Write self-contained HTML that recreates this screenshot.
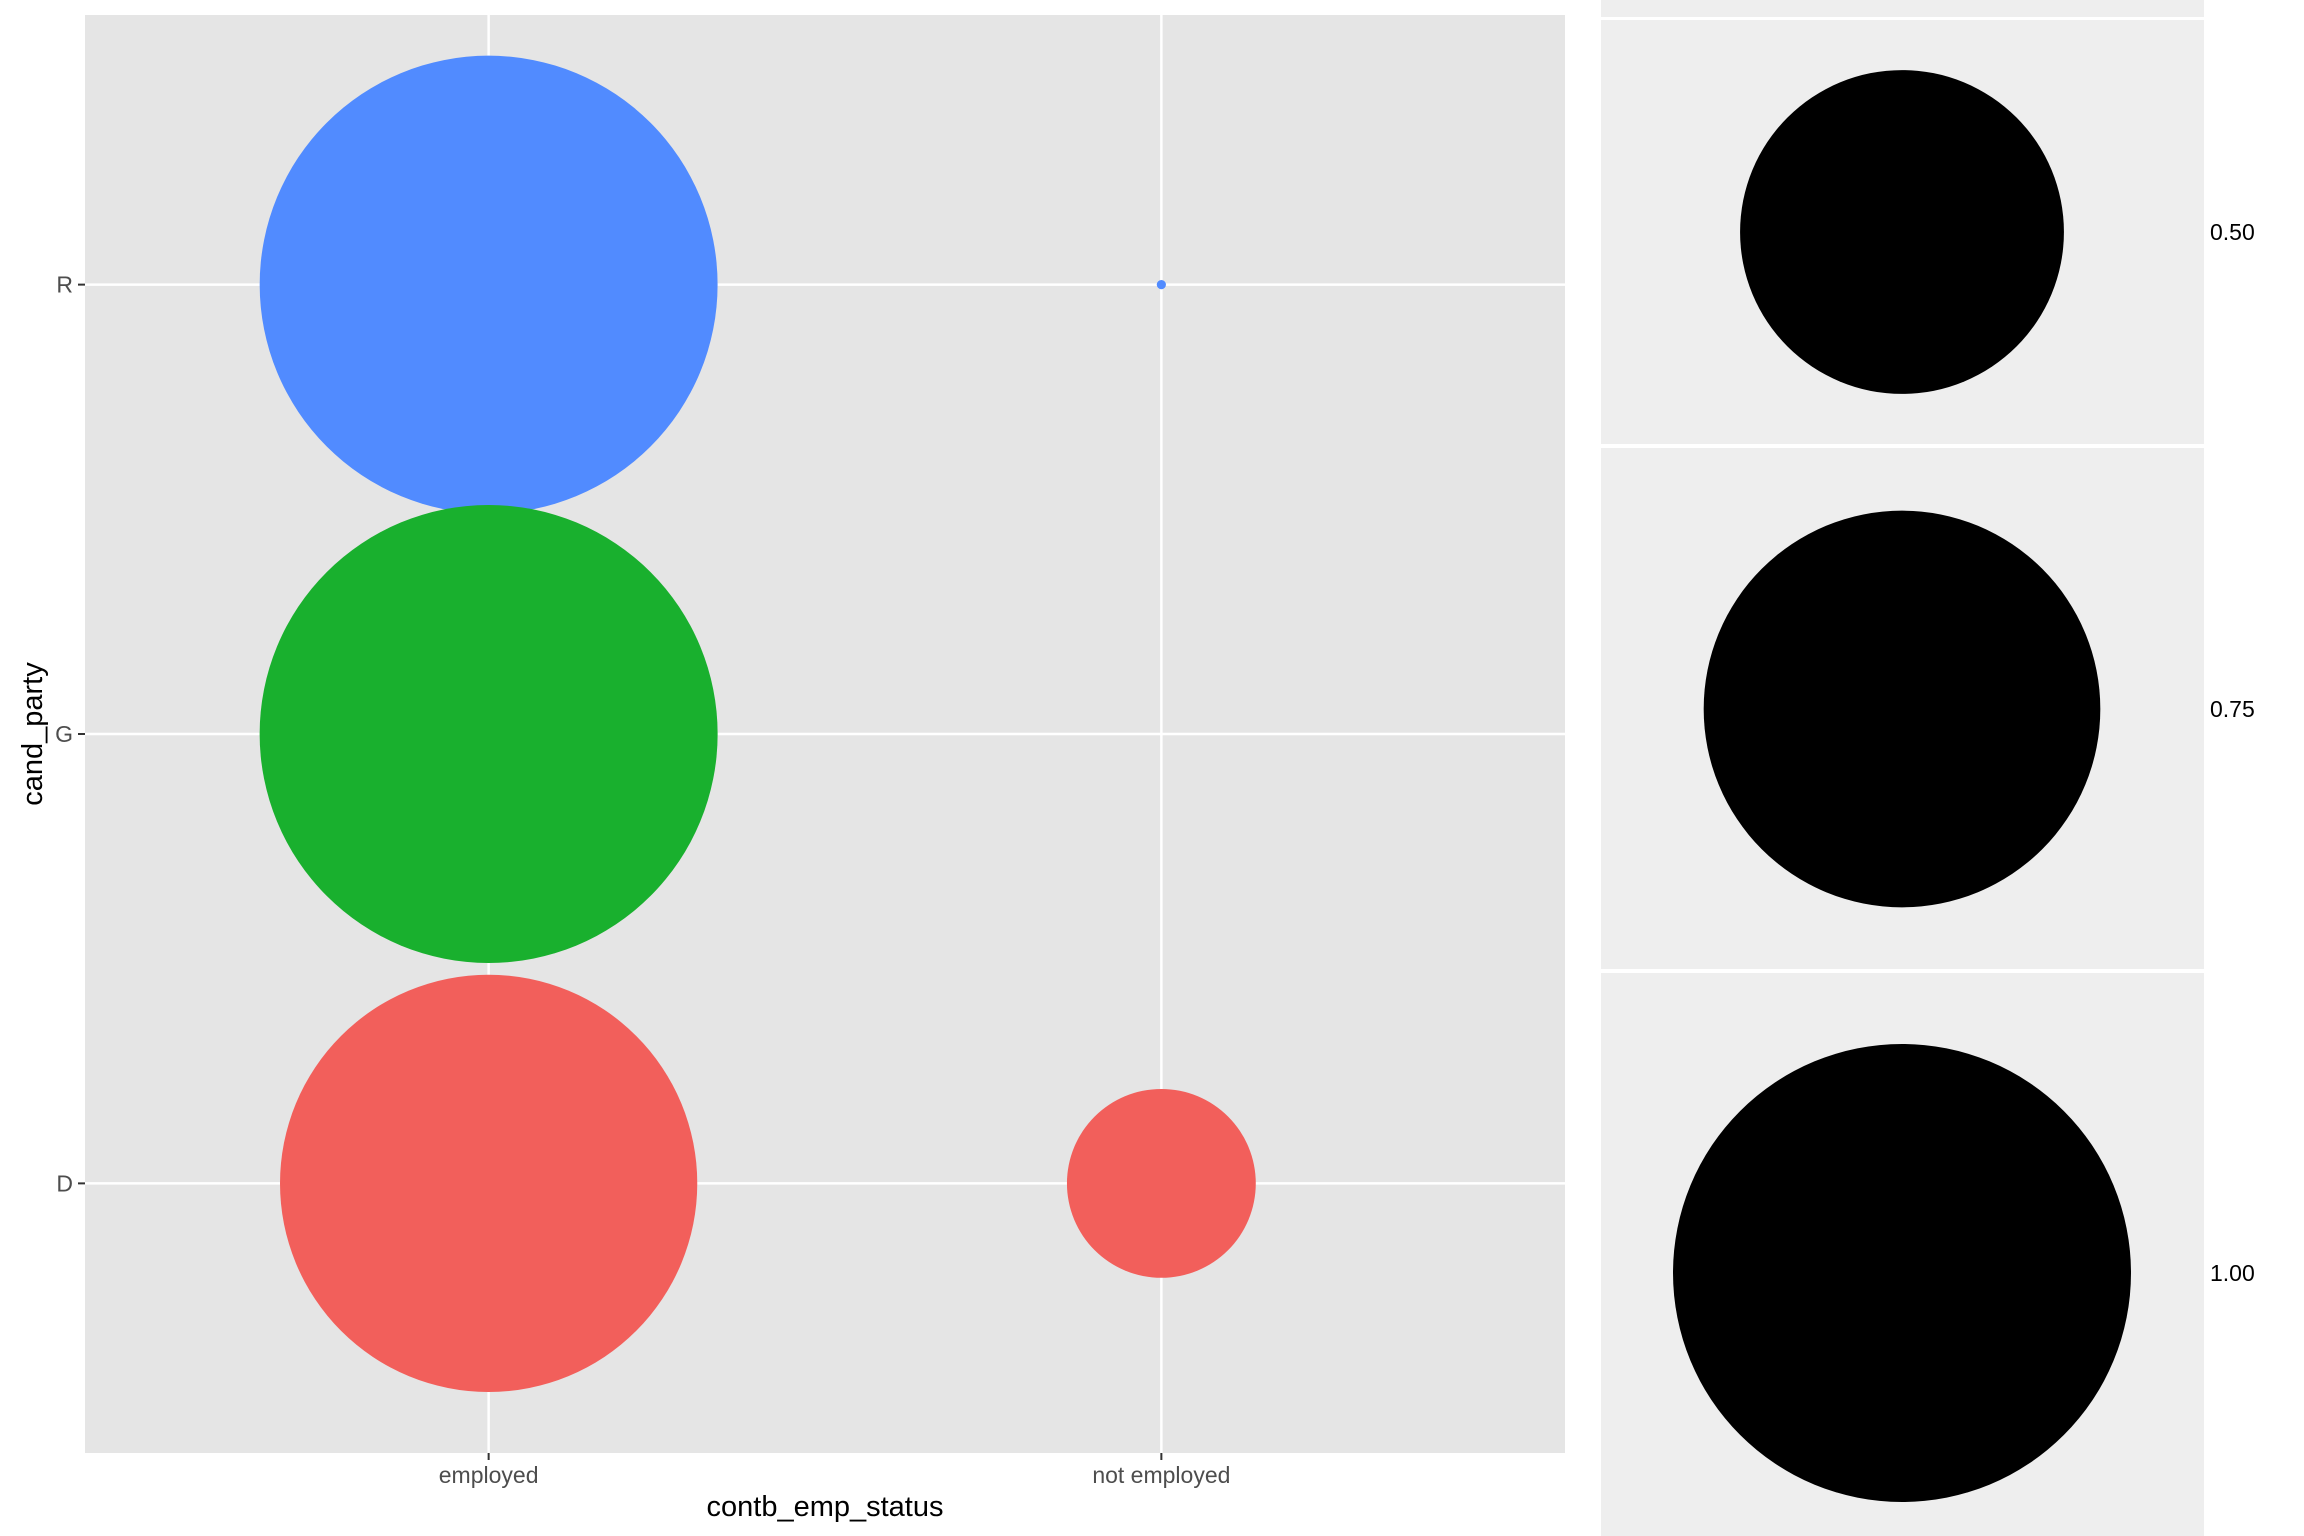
<!DOCTYPE html>
<html><head><meta charset="utf-8"><style>
body{margin:0;background:#fff;}
svg{display:block;font-family:"Liberation Sans",Arial,sans-serif;}
</style></head><body>
<svg id="chart" width="2304" height="1536" viewBox="0 0 2304 1536"></svg>
<script>
const categoriesX = ["employed", "not employed"];
const categoriesY = ["D", "G", "R"];
const pointX = ["employed", "not employed", "employed", "employed", "not employed"];
const pointY = ["R", "R", "G", "D", "D"];
const pointSize = [0.9996, 0.0004, 1.0, 0.83, 0.17];
const pointColor = ["#518BFF", "#518BFF", "#19B02E", "#F25F5B", "#F25F5B"];
const legendValues = [0.50, 0.75, 1.00];
const legendLabels = ["0.50", "0.75", "1.00"];

const NS = "http://www.w3.org/2000/svg";
const svg = document.getElementById("chart");
function mk(tag, attrs, parent) {
  const e = document.createElementNS(NS, tag);
  for (const k in attrs) e.setAttribute(k, attrs[k]);
  (parent || svg).appendChild(e);
  return e;
}
const P = {l: 85, r: 1565, t: 15, b: 1453};
function xScale(c) { const i = categoriesX.indexOf(c) + 1; return P.l + (i - 0.4) / 2.2 * (P.r - P.l); }
function yScale(c) { const i = categoriesY.indexOf(c) + 1; return P.b - (i - 0.4) / 3.2 * (P.b - P.t); }
function rScale(v) { return 229 * Math.sqrt(v); }

const panel = mk("rect", {x: P.l, y: P.t, width: P.r - P.l, height: P.b - P.t, fill: "#E5E5E5"});



categoriesX.forEach(c => {
  const x = xScale(c);
  const g = mk("line", {x1: x, x2: x, y1: P.t, y2: P.b, stroke: "#fff", "stroke-width": 2.5});
  
  
  const t = mk("line", {x1: x, x2: x, y1: P.b, y2: P.b + 7, stroke: "#333", "stroke-width": 2});
  
  
  const lb = mk("text", {x: x, y: P.b + 30, "text-anchor": "middle", "font-size": 23, fill: "#4D4D4D"});
  lb.textContent = c;
  
  
});
categoriesY.forEach(c => {
  const y = yScale(c);
  const g = mk("line", {x1: P.l, x2: P.r, y1: y, y2: y, stroke: "#fff", "stroke-width": 2.5});
  
  
  const t = mk("line", {x1: P.l - 7, x2: P.l, y1: y, y2: y, stroke: "#333", "stroke-width": 2});
  
  
  const lb = mk("text", {x: P.l - 12, y: y + 8, "text-anchor": "end", "font-size": 23, fill: "#4D4D4D"});
  lb.textContent = c;
  
  
});

pointSize.forEach((v, i) => {
  const c = mk("circle", {cx: xScale(pointX[i]), cy: yScale(pointY[i]), r: rScale(v), fill: pointColor[i]});
  
  
});

const xt = mk("text", {x: (P.l + P.r) / 2, y: 1516, "text-anchor": "middle", "font-size": 29, fill: "#000"});
xt.textContent = "contb_emp_status";


const yt = mk("text", {x: 0, y: 0, transform: "translate(42," + ((P.t + P.b) / 2) + ") rotate(-90)", "text-anchor": "middle", "font-size": 29, fill: "#000"});
yt.textContent = "cand_party";



// legend
const L = {l: 1601, r: 2204};
const keyTops = [20, 448, 973];
const keyBots = [444, 969, 1536];
const topKey = mk("rect", {x: L.l, y: 0, width: L.r - L.l, height: 17, fill: "#EEEEEE"});


const legCY = [232, 709, 1273];
legendValues.forEach((v, i) => {
  const k = mk("rect", {x: L.l, y: keyTops[i], width: L.r - L.l, height: keyBots[i] - keyTops[i], fill: "#EEEEEE"});
  
  
  const c = mk("circle", {cx: 1902, cy: legCY[i], r: rScale(v), fill: "#000"});
  
  
  const t = mk("text", {x: 2210, y: legCY[i] + 8, "font-size": 23, fill: "#000"});
  t.textContent = legendLabels[i];
  
  
});
</script>
</body></html>
